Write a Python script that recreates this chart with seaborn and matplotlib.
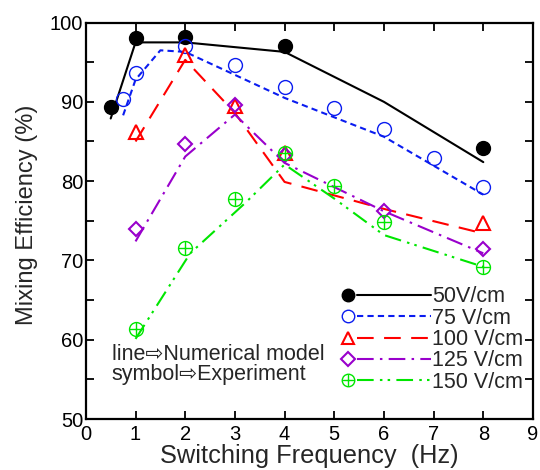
import matplotlib
matplotlib.use("Agg")
import matplotlib.pyplot as plt
import seaborn as sns
import pandas as pd
from matplotlib.lines import Line2D
from matplotlib.legend_handler import HandlerLine2D

# ---- data ----
labels = ["50V/cm", "75 V/cm", "100 V/cm", "125 V/cm", "150 V/cm"]

exp50_f = [0.5, 1, 2, 4, 8]
exp50_e = [89.3, 98.0, 98.2, 97.1, 84.2]
mod50_f = [0.5, 1, 2, 4, 6, 8]
mod50_e = [87.9, 97.5, 97.5, 96.3, 90.0, 82.4]

exp75_f = [0.75, 1, 2, 3, 4, 5, 6, 7, 8]
exp75_e = [90.4, 93.7, 97.0, 94.6, 91.9, 89.2, 86.6, 82.9, 79.2]
mod75_f = [0.75, 1, 1.5, 2, 4, 6, 8]
mod75_e = [88.3, 92.8, 96.5, 96.3, 90.5, 85.6, 78.3]

exp100_f = [1, 2, 3, 4, 8]
exp100_e = [86.2, 95.9, 89.5, 83.5, 74.7]
mod100_f = [1, 2, 3, 4, 6, 8]
mod100_e = [85.0, 95.3, 88.6, 79.9, 76.5, 73.4]

exp125_f = [1, 2, 3, 4, 6, 8]
exp125_e = [74.0, 84.7, 89.6, 83.3, 76.2, 71.4]
mod125_f = [1, 2, 3, 4, 6, 8]
mod125_e = [72.4, 83.1, 88.4, 82.3, 76.2, 70.9]

exp150_f = [1, 2, 3, 4, 5, 6, 8]
exp150_e = [61.4, 71.6, 77.7, 83.6, 79.4, 74.9, 69.2]
mod150_f = [1, 2.1, 3.2, 4, 5, 6, 8]
mod150_e = [60.1, 70.9, 77.2, 82.1, 77.8, 73.2, 69.2]

x_ticks = [0, 1, 2, 3, 4, 5, 6, 7, 8, 9]
y_ticks = [50, 60, 70, 80, 90, 100]

# ---- styling ----
sns.set_theme(style="ticks")
plt.rcParams["font.family"] = ["Liberation Sans", "DejaVu Sans"]
plt.rcParams["axes.linewidth"] = 1.6

colors = ["black", "#0a1cf0", "#ff0000", "#9900cc", "#00e600"]
dashes = [None, (0, (3.0, 2.0)), (0, (8, 5)), (0, (8, 3, 1.2, 3)),
          (0, (8, 3, 1.2, 2.5, 1.2, 3))]
markers = ["o", "o", "^", "D", "o"]
msizes = [10, 10, 10, 7.5, 10]
filled = [True, False, False, False, False]
mews = [1.0, 1.0, 1.5, 1.5, 1.0]

fig = plt.figure(figsize=(5.4, 4.7), dpi=100)
ax = fig.add_axes([0.159, 0.1085, 0.828, 0.8435])

exps = [(exp50_f, exp50_e), (exp75_f, exp75_e), (exp100_f, exp100_e),
        (exp125_f, exp125_e), (exp150_f, exp150_e)]
mods = [(mod50_f, mod50_e), (mod75_f, mod75_e), (mod100_f, mod100_e),
        (mod125_f, mod125_e), (mod150_f, mod150_e)]

handles = []
for i, ((ef, ee), (mf, me)) in enumerate(zip(exps, mods)):
    df = pd.DataFrame({"f": mf, "e": me})
    kw = {}
    if dashes[i] is not None:
        kw["linestyle"] = dashes[i]
    sns.lineplot(data=df, x="f", y="e", ax=ax, color=colors[i], lw=1.5,
                 sort=False, estimator=None, **kw)
    mfc = colors[i] if filled[i] else "none"
    ax.plot(ef, ee, ls="none", marker=markers[i], ms=msizes[i], mfc=mfc,
            mec=colors[i], mew=mews[i])
    if i == 4:
        ax.plot(ef, ee, ls="none", marker="+", ms=msizes[i], mec=colors[i], mew=1.0)
    h = Line2D([], [], color=colors[i], lw=1.5,
               ls=dashes[i] if dashes[i] is not None else "-",
               marker=markers[i], ms=msizes[i] * 0.9, mfc=mfc, mec=colors[i],
               mew=mews[i])
    h.extra_plus = (i == 4)
    handles.append(h)


class MarkerLeft(HandlerLine2D):
    def create_artists(self, legend, orig, xd, yd, w, h, fs, trans):
        y = h / 2 - yd
        out = []
        ln = Line2D([-xd + 13, -xd + w], [y, y])
        self.update_prop(ln, orig, legend)
        ln.set_marker("None")
        ln.set_transform(trans)
        out.append(ln)
        m = Line2D([-xd + 6.5], [y])
        self.update_prop(m, orig, legend)
        m.set_linestyle("none")
        m.set_transform(trans)
        out.append(m)
        if getattr(orig, "extra_plus", False):
            p = Line2D([-xd + 6.5], [y], ls="none", marker="+",
                       ms=orig.get_markersize(), mec=orig.get_color(), mew=1.0)
            p.set_transform(trans)
            out.append(p)
        return out


leg = ax.legend(handles, labels, loc="upper left", bbox_to_anchor=(0.565, 0.335),
                frameon=False, fontsize=15.5, handlelength=4.3, handletextpad=0.05,
                labelspacing=0.02, borderpad=0, borderaxespad=0,
                handler_map={Line2D: MarkerLeft()})

ax.text(0.058, 0.1375, "line\u21e8Numerical model\nsymbol\u21e8Experiment",
        transform=ax.transAxes, fontsize=15.5, va="center", ha="left",
        linespacing=0.9)

ax.set_xlim(0, 9)
ax.set_ylim(50, 100)
ax.set_xticks(x_ticks)
ax.set_yticks(y_ticks)
ax.set_yticks([55, 65, 75, 85, 95], minor=True)
ax.tick_params(which="both", direction="in", top=True, right=True,
               labelsize=14.5, width=1.3, colors="black")
ax.tick_params(axis="x", pad=4)
ax.tick_params(axis="y", pad=2)
ax.tick_params(which="major", length=6)
ax.tick_params(which="minor", length=6)
for s in ax.spines.values():
    s.set_color("black")

ax.set_xlabel("Switching Frequency  (Hz)", fontsize=18.3, labelpad=0)
ax.set_ylabel("Mixing Efficiency (%)", fontsize=17)
ax.yaxis.set_label_coords(-0.108, 0.515)

fig.savefig("out.png", dpi=100)
